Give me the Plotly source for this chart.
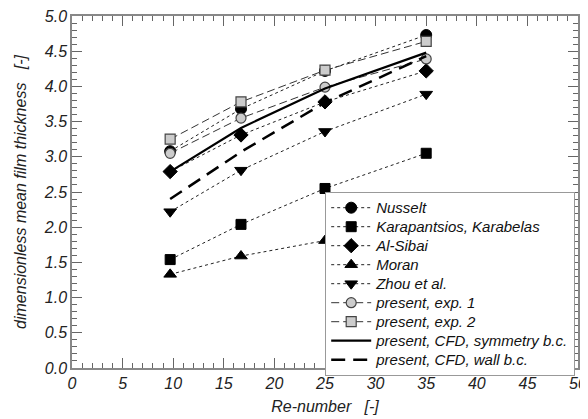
import plotly.graph_objects as go

re_num = [9.7, 16.7, 25.0, 35.0]

nusselt = [3.08, 3.68, 4.22, 4.73]
karapantsios = [1.54, 2.04, 2.55, 3.05]
al_sibai = [2.79, 3.31, 3.78, 4.22]
moran = [1.33, 1.59, 1.81, 2.05]
zhou = [2.22, 2.81, 3.36, 3.89]
exp1 = [3.05, 3.55, 3.99, 4.39]
exp2 = [3.25, 3.78, 4.23, 4.64]
cfd_sym = [2.79, 3.41, 3.97, 4.48]
cfd_wall = [2.40, 3.07, 3.77, 4.43]

names = ["Nusselt", "Karapantsios, Karabelas", "Al-Sibai", "Moran", "Zhou et al.",
         "present, exp. 1", "present, exp. 2", "present, CFD, symmetry b.c.",
         "present, CFD, wall b.c."]

FONT = "Liberation Sans, Arial, sans-serif"


def leg(name):
    # larger legend text while keeping plotly's compact row spacing
    return "<span style='font-size:15px'>" + name + "</span>"


fig = go.Figure()

def lit(y, name, symbol, size):
    fig.add_trace(go.Scatter(
        x=re_num, y=y, name=leg(name), mode="lines+markers",
        line=dict(color="#222", width=1, dash="dot"),
        marker=dict(symbol=symbol, size=size, color="black",
                    line=dict(color="black", width=1))))

lit(nusselt, names[0], "circle", 11)
lit(karapantsios, names[1], "square", 10)
lit(al_sibai, names[2], "diamond", 11)
lit(moran, names[3], "triangle-up", 11)
lit(zhou, names[4], "triangle-down", 11)

for y, name, sym in [(exp1, names[5], "circle"), (exp2, names[6], "square")]:
    fig.add_trace(go.Scatter(
        x=re_num, y=y, name=leg(name), mode="lines+markers",
        line=dict(color="#333", width=1, dash="8px,4px"),
        marker=dict(symbol=sym, size=10, color="#cccccc",
                    line=dict(color="#444", width=1.2))))

fig.add_trace(go.Scatter(x=re_num, y=cfd_sym, name=leg(names[7]), mode="lines",
                         line=dict(color="black", width=2.2)))
fig.add_trace(go.Scatter(x=re_num, y=cfd_wall, name=leg(names[8]), mode="lines",
                         line=dict(color="black", width=2.5, dash="14px,8px")))

axis_common = dict(
    showline=True, linecolor="#888", linewidth=1.5, mirror="allticks",
    ticks="inside", ticklen=10, tickcolor="#666", tickwidth=1,
    showgrid=False, zeroline=False, automargin=False,
    ticklabeloverflow="allow",
    tickfont=dict(family=FONT, size=16, color="#222", style="italic"),
)

fig.update_xaxes(range=[0, 50], dtick=5, tick0=0,
                 minor=dict(dtick=1, ticks="inside", ticklen=5, tickcolor="#666"),
                 title=dict(text="Re-number   [-]", standoff=10,
                            font=dict(family=FONT, size=16, color="#222", style="italic")),
                 **axis_common)
fig.update_yaxes(range=[0, 5], dtick=0.5, tick0=0, tickformat=".1f",
                 minor=dict(dtick=0.1, ticks="inside", ticklen=5, tickcolor="#666"),
                 title=dict(text="dimensionless mean film thickness   [-]", standoff=13,
                            font=dict(family=FONT, size=16, color="#222", style="italic")),
                 **axis_common)

# page body has an 8px default margin, so the figure is drawn 8px smaller
fig.update_layout(
    width=580, height=411,
    margin=dict(l=64, r=10, t=8, b=51),
    paper_bgcolor="white", plot_bgcolor="white",
    showlegend=True,
    legend=dict(x=0.5, y=0.5, xanchor="left", yanchor="top",
                bgcolor="white", bordercolor="#999", borderwidth=1.2,
                font=dict(family=FONT, size=12.3, color="#111", style="italic"),
                itemwidth=40, tracegroupgap=0),
)

fig.write_html("out.html")
